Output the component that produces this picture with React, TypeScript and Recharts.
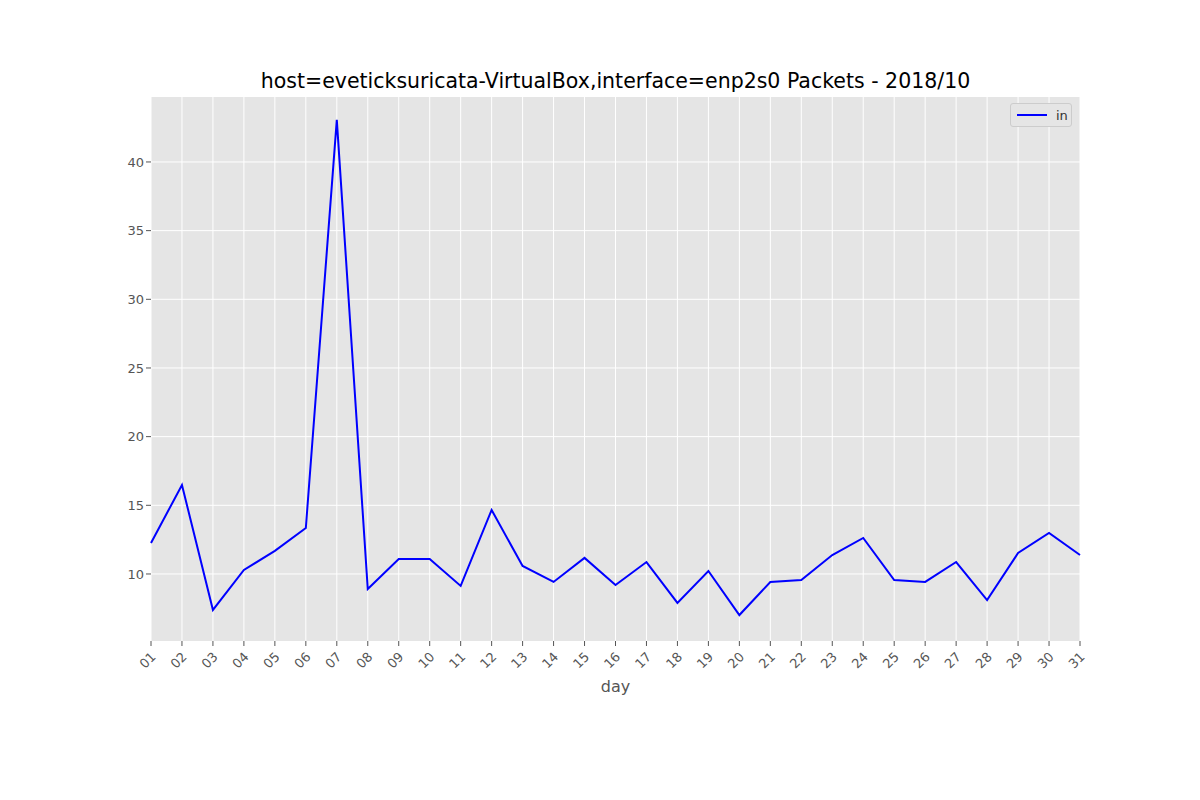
import React from 'react';
import { LineChart, Line, XAxis, YAxis, CartesianGrid } from 'recharts';

const days = Array.from({ length: 31 }, (_, i) => i + 1);
const packetsIn = [12.26, 16.48, 7.38, 10.29, 11.68, 13.35, 43.06, 8.91, 11.09, 11.09, 9.13, 14.66, 10.58, 9.42, 11.17, 9.2, 10.87, 7.89, 10.22, 7.01, 9.42, 9.56, 11.38, 12.62, 9.56, 9.42, 10.87, 8.1, 11.53, 12.99, 11.38];
const yTicks = [10, 15, 20, 25, 30, 35, 40];

const data = days.map((d, i) => ({ day: d, in: packetsIn[i] }));

const XTick = (props: any) => {
  const { x, y, payload } = props;
  return (
    <g transform={`translate(${x},${y + 4})`}>
      <text transform="rotate(-45)" textAnchor="end" dy={8} fontSize={13} fill="#555" fontFamily="DejaVu Sans">
        {String(payload.value).padStart(2, '0')}
      </text>
    </g>
  );
};

export default function App() {
  return (
    <div style={{ position: 'absolute', left: 0, top: 0, width: 1200, height: 800, background: '#fff', fontFamily: 'DejaVu Sans' }}>
      <LineChart width={1200} height={800} data={data} margin={{ top: 97, right: 120, bottom: 99, left: 101 }}>
        <CartesianGrid fill="#e5e5e5" stroke="#fff" strokeWidth={1} horizontalValues={yTicks} />
        <XAxis dataKey="day" type="number" domain={[1, 31]} ticks={days} interval={0} tick={<XTick />}
          axisLine={false} tickLine={{ stroke: '#555' }} tickSize={5} height={60}
          label={{ value: 'day', position: 'insideBottom', offset: 0, dy: -9, fontSize: 16, fill: '#555' }} />
        <YAxis type="number" domain={[5.12, 44.73]} ticks={yTicks} width={50} axisLine={false}
          tickLine={{ stroke: '#555' }} tickSize={5} tick={{ fontSize: 13, fill: '#555' }} />
        <Line dataKey="in" stroke="#0000ff" strokeWidth={2} dot={false} isAnimationActive={false} />
      </LineChart>
      <div style={{ position: 'absolute', top: 69, left: 0, width: 1231, textAlign: 'center', fontSize: 20.5, color: '#000' }}>
        host=eveticksuricata-VirtualBox,interface=enp2s0 Packets - 2018/10
      </div>
      <div style={{ position: 'absolute', left: 1010, top: 103, width: 62, height: 24, background: '#e5e5e5', border: '1px solid #ccc', borderRadius: 3, boxSizing: 'border-box', display: 'flex', alignItems: 'center', fontSize: 13 }}>
        <div style={{ width: 30, height: 2, background: '#0000ff', marginLeft: 6, marginRight: 9 }} />
        <span style={{ color: '#333' }}>in</span>
      </div>
    </div>
  );
}
